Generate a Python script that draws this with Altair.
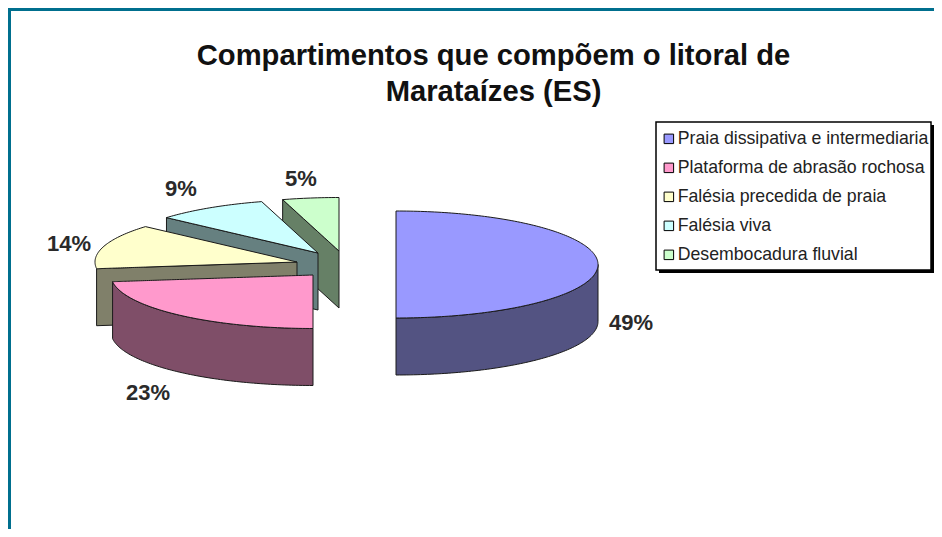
import altair as alt
import numpy as np
import pandas as pd

W, H = 926, 521

title_lines = ["Compartimentos que compõem o litoral de", "Marataízes (ES)"]
names = ["Praia dissipativa e intermediaria", "Plataforma de abrasão rochosa",
         "Falésia precedida de praia", "Falésia viva", "Desembocadura fluvial"]
labels = ["49%", "23%", "14%", "9%", "5%"]
drawn_share = [50.0, 23.0, 13.5, 9.0, 4.5]
top_colors = ["#9999FF", "#FF99CC", "#FFFFCC", "#CCFFFF", "#CCFFCC"]
wall_colors = ["#535382", "#7F4E68", "#80806A", "#668080", "#668066"]

# exploded slice apexes, in picture pixels
apex_x = [396, 313, 297, 318, 339]
apex_y = [264.5, 275, 262, 253, 251]
label_x = [631, 148, 69, 181, 301]
label_y = [323, 393, 244, 189, 179]
RX, RY, DEPTH = 202, 53.5, 57


def rim(i, t0, t1):
    t = np.radians(np.linspace(t0, t1, max(2, int(abs(t1 - t0)) + 1)))
    return list(zip(apex_x[i] + RX * np.sin(t), apex_y[i] - RY * np.cos(t)))


def envelope(poly):
    """Upper and lower edge of a polygon for an area mark."""
    xs = sorted({round(p[0], 3) for p in poly})
    rows = []
    n = len(poly)
    for x in xs:
        hits = []
        for k in range(n):
            (x0, y0), (x1, y1) = poly[k], poly[(k + 1) % n]
            lo, hi = min(x0, x1) - 1e-3, max(x0, x1) + 1e-3
            if lo <= x <= hi:
                if abs(x1 - x0) < 1e-6:
                    hits += [y0, y1]
                else:
                    hits.append(y0 + (y1 - y0) * (x - x0) / (x1 - x0))
        rows.append((x, min(hits), max(hits)))
    return rows


edges = np.cumsum([0] + drawn_share) * 3.6
rows = []


def add(part, poly):
    for x, y0, y1 in envelope(poly):
        rows.append({"part": part, "x": x, "y": y0, "y2": y1})


for i in [4, 3, 2, 1, 0]:
    t0, t1 = edges[i], edges[i + 1]
    ap = (apex_x[i], apex_y[i])
    if i == 0:
        edge = rim(i, 90, t1)
    elif i == 1:
        edge = rim(i, t0, t1)
    else:
        edge = [ap, rim(i, t0, t0)[0]]
    wall = edge + [(x, y + DEPTH) for x, y in reversed(edge)]
    add("wall " + names[i], wall)
    add(names[i], [ap] + rim(i, t0, t1))

pie = pd.DataFrame(rows)
xs = alt.Scale(domain=[8, 8 + W], nice=False, zero=False)
ys = alt.Scale(domain=[8 + H, 8], nice=False, zero=False)
domain = names + ["wall " + n for n in names]

areas = alt.Chart(pie).mark_area(stroke="#1a1a1a", strokeWidth=1, opacity=1).encode(
    x=alt.X("x:Q", scale=xs, axis=None),
    y=alt.Y("y:Q", scale=ys, axis=None),
    y2="y2:Q",
    color=alt.Color(
        "part:N",
        scale=alt.Scale(domain=domain, range=top_colors + wall_colors),
        legend=alt.Legend(
            values=names, title=None, orient="none", legendX=652, legendY=122,
            padding=0,
            symbolType="square", symbolSize=90, symbolStrokeColor="black",
            symbolStrokeWidth=1, symbolOpacity=1, labelFont="Liberation Sans",
            labelFontSize=17.7, labelColor="#222222", labelLimit=400,
            rowPadding=10, labelOffset=0,
        ),
    ),
)


def box(x, x2, y, y2, fill, stroke=None):
    mark = {"color": fill}
    if stroke:
        mark = {"fill": fill, "stroke": stroke, "strokeWidth": 1.5}
    return alt.Chart(pd.DataFrame({"x": [x], "x2": [x2], "y": [y], "y2": [y2]})).mark_rect(**mark).encode(
        x=alt.X("x:Q", scale=xs, axis=None), x2="x2:Q",
        y=alt.Y("y:Q", scale=ys, axis=None), y2="y2:Q",
    )


shadow = box(659, 934, 125, 273, "black")
legend_box = box(656, 931, 122, 270, "white", "black")

text = alt.Chart(pd.DataFrame({"label": labels, "x": label_x, "y": label_y})).mark_text(
    font="Liberation Sans", fontSize=22, fontWeight="bold", color="#2a2a2a"
).encode(
    x=alt.X("x:Q", scale=xs, axis=None),
    y=alt.Y("y:Q", scale=ys, axis=None),
    text="label:N",
)

frame_left = alt.Chart(pd.DataFrame({"a": [0]})).mark_rule(color="#006F8E", size=3).encode(
    x=alt.value(1.5), y=alt.value(0), y2=alt.value(H))
frame_top = alt.Chart(pd.DataFrame({"a": [0]})).mark_rule(color="#006F8E", size=3).encode(
    y=alt.value(1.5), x=alt.value(0), x2=alt.value(W))

chart = alt.layer(shadow, legend_box, areas, text, frame_left, frame_top).properties(
    width=W, height=H,
    autosize=alt.AutoSizeParams(type="none"),
    padding=0,
    background="white",
    title=alt.TitleParams(
        text=title_lines, font="Liberation Sans", fontSize=29.2, fontWeight="bold",
        color="#111111", anchor="middle", frame="group", offset=-101, dx=22.5, lineHeight=36,
    ),
).configure_view(stroke=None)

chart.save("out.html", embed_options={"renderer": "svg", "actions": False})
